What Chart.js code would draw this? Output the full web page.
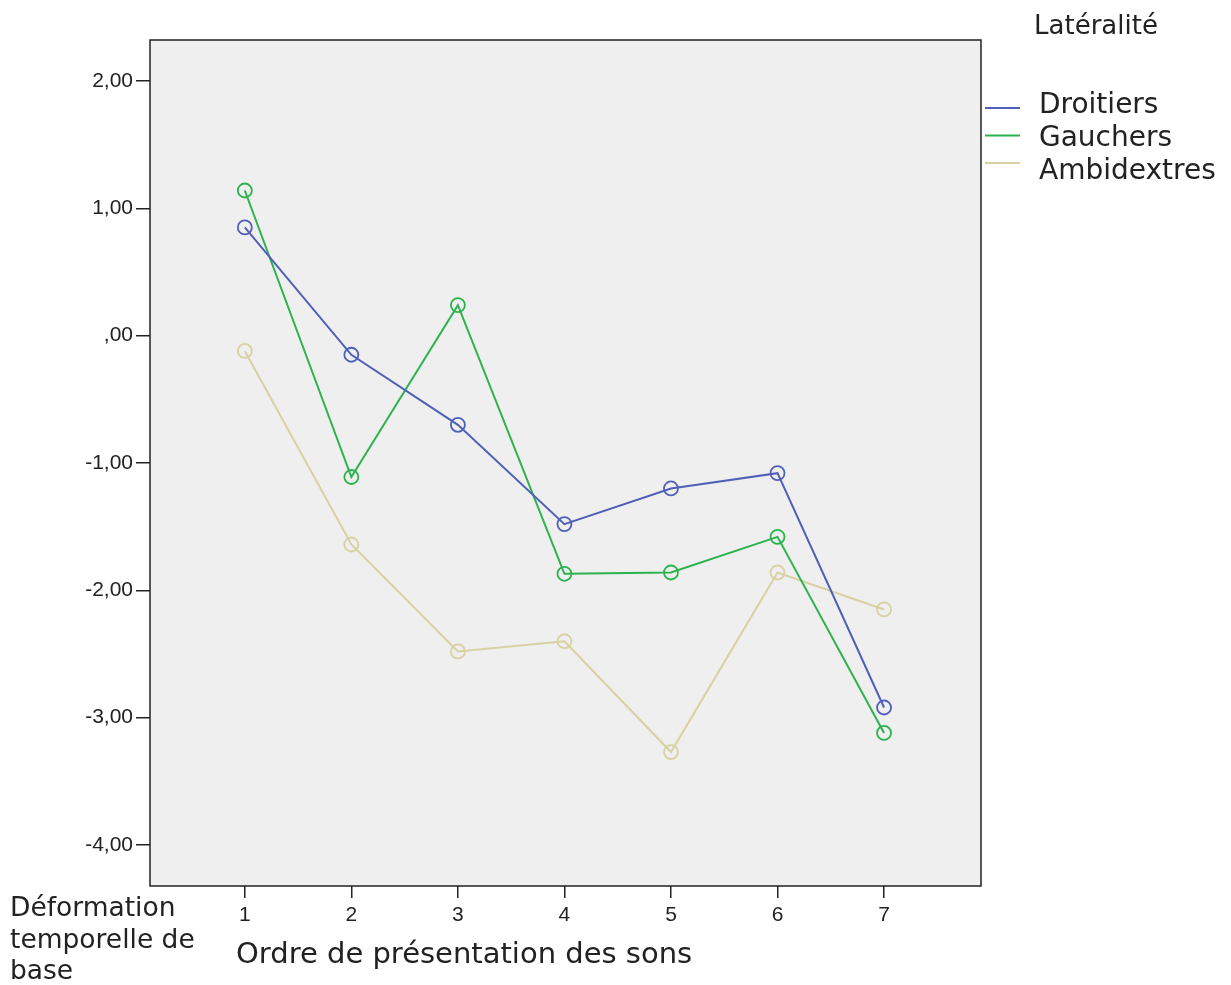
<!DOCTYPE html>
<html>
<head>
<meta charset="utf-8">
<script src="https://cdn.jsdelivr.net/npm/chart.js@4.4.1/dist/chart.umd.min.js"></script>
<style>
body{margin:0;background:#fff;}
canvas{display:block;}
</style>
</head>
<body>
<canvas id="chart" width="1231" height="985"></canvas>
<script>
// order of presentation (x) and mean values per laterality group
const ordre=[1,2,3,4,5,6,7];
const droitiers=[0.85,-0.15,-0.70,-1.48,-1.20,-1.08,-2.92];
const gauchers=[1.14,-1.11,0.24,-1.87,-1.86,-1.58,-3.12];
const ambidextres=[-0.12,-1.64,-2.48,-2.40,-3.27,-1.86,-2.15];
const yTicks=[-4,-3,-2,-1,0,1,2];
const xTicks=[1,2,3,4,5,6,7];

const groupes=['Droitiers','Gauchers','Ambidextres'];
const couleurs=['#5060b8','#2db34e','#d9d1a3'];
const series=[droitiers,gauchers,ambidextres];

function pts(vals){
    let out=[];
    for(let i=0;i<ordre.length;i++) out.push({x:ordre[i],y:vals[i]});
    return out;
}

const fond={
    id:'fond',
    beforeDraw(chart){
        const c=chart.ctx, a=chart.chartArea;
        c.save();
        c.fillStyle='#efefef';
        c.fillRect(a.left,a.top,a.right-a.left,a.bottom-a.top);
        c.restore();
    },
    afterDraw(chart){
        const c=chart.ctx, a=chart.chartArea;
        c.save();
        c.strokeStyle='#222';
        c.lineWidth=1.5;
        c.strokeRect(a.left,a.top,a.right-a.left,a.bottom-a.top);
        c.fillStyle='#222';
        c.textBaseline='alphabetic';
        // axis titles
        c.font='29px "DejaVu Sans"';
        c.textAlign='left';
        c.fillText('Ordre de présentation des sons',236,963);
        c.font='26.5px "DejaVu Sans"';
        c.fillText('Déformation',10,916);
        c.fillText('temporelle de',10,948);
        c.fillText('base',10,979);
        // legend
        c.font='26px "DejaVu Sans"';
        c.textAlign='center';
        c.fillText('Latéralité',1096,34);
        c.font='28px "DejaVu Sans"';
        c.textAlign='left';
        chart.data.datasets.forEach(function(ds,i){
            let y=108+i*27.5;
            c.strokeStyle=ds.borderColor;
            c.lineWidth=2;
            c.beginPath();
            c.moveTo(985,y);
            c.lineTo(1020,y);
            c.stroke();
            c.fillStyle='#222';
            c.fillText(ds.label,1039,113+i*33);
        });
        c.restore();
    }
};

new Chart('chart',{
    type:'line',
    data:{
        datasets:groupes.map(function(g,i){
            return {
                label:g,
                data:pts(series[i]),
                borderColor:couleurs[i],
                backgroundColor:'rgba(0,0,0,0)',
                borderWidth:2,
                pointRadius:7,
                pointBorderWidth:1.8,
                pointBackgroundColor:'rgba(0,0,0,0)',
                pointBorderColor:couleurs[i],
                tension:0
            };
        })
    },
    options:{
        responsive:false,
        animation:false,
        layout:{padding:{left:0,top:40,right:250,bottom:0}},
        plugins:{legend:{display:false},tooltip:{enabled:false}},
        scales:{
            x:{
                type:'linear',
                min:0.11,
                max:7.91,
                afterBuildTicks(s){s.ticks=xTicks.map(function(v){return {value:v};});},
                afterFit(s){s.height=99;},
                grid:{drawOnChartArea:false,drawTicks:true,tickLength:12,color:'#222',lineWidth:1.5},
                border:{display:false},
                ticks:{font:{family:'"Liberation Sans"',size:21},color:'#222',padding:5,maxRotation:0}
            },
            y:{
                min:-4.322,
                max:2.322,
                afterBuildTicks(s){s.ticks=yTicks.map(function(v){return {value:v};});},
                afterFit(s){s.width=150;},
                grid:{drawOnChartArea:false,drawTicks:true,tickLength:14,color:'#222',lineWidth:1.5},
                border:{display:false},
                ticks:{
                    font:{family:'"Liberation Sans"',size:21},
                    color:'#222',
                    padding:3,
                    callback:function(v){return v===0?',00':v.toFixed(2).replace('.',',');}
                }
            }
        }
    },
    plugins:[fond]
});
</script>
</body>
</html>
